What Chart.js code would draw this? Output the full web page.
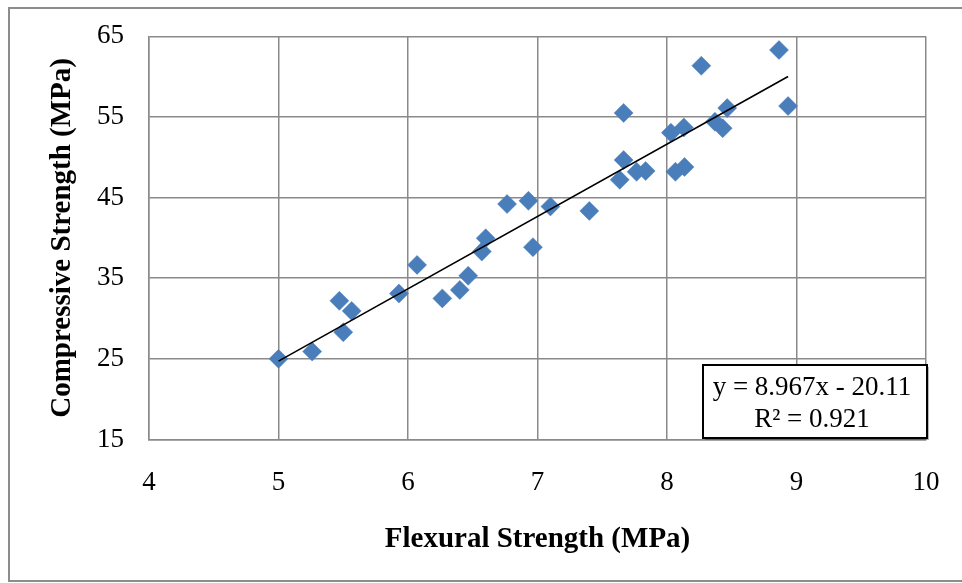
<!DOCTYPE html>
<html>
<head>
<meta charset="utf-8">
<script src="https://cdn.jsdelivr.net/npm/chart.js@4"></script>
<style>
  html, body { margin: 0; padding: 0; background: #ffffff; }
  #wrap { width: 962px; height: 583px; position: relative; }
</style>
</head>
<body>
<div id="wrap"><canvas id="chart" width="962" height="583"></canvas></div>
<script>
// Flexural strength (MPa) of each specimen
const flexural = [5.00, 5.26, 5.47, 5.50, 5.565, 5.93, 6.07, 6.265, 6.40, 6.465,
                  6.57, 6.60, 6.765, 6.93, 6.965, 7.10, 7.40, 7.635, 7.665, 7.665,
                  7.765, 7.835, 8.03, 8.065, 8.135, 8.13, 8.265, 8.37, 8.43, 8.465,
                  8.865, 8.935];
// Compressive strength (MPa) of the same specimens
const compressive = [25.0, 25.9, 32.2, 28.3, 30.95, 33.1, 36.65, 32.5, 33.55, 35.3,
                     38.3, 39.95, 44.2, 44.6, 38.85, 43.9, 43.35, 47.2, 49.65, 55.5,
                     48.2, 48.3, 53.05, 48.2, 48.8, 53.7, 61.35, 54.4, 53.6, 56.1,
                     63.3, 56.35];

// Linear trendline reported for the data
const slope = 8.967;
const intercept = -20.11;
const rSquared = 0.921;

// Axis ranges and tick steps
const xTicks = { min: 4, max: 10, step: 1 };
const yTicks = { min: 15, max: 65, step: 10 };

const points = flexural.map((x, i) => ({ x: x, y: compressive[i] }));
const xLo = Math.min(...flexural);
const xHi = Math.max(...flexural);
const trend = [xLo, xHi].map(x => ({ x: x, y: slope * x + intercept }));

const serif = '"Liberation Serif", "Times New Roman", serif';
const gridColor = '#8a8a8a';

// Outer frame of the chart
const framePlugin = {
  id: 'frame',
  beforeDraw(chart) {
    const ctx = chart.ctx;
    ctx.save();
    ctx.fillStyle = '#ffffff';
    ctx.fillRect(0, 0, chart.width, chart.height);
    ctx.strokeStyle = '#8c8c8c';
    ctx.lineWidth = 2;
    ctx.strokeRect(9, 8, chart.width + 10, 573);
    ctx.restore();
  }
};

// Trendline equation box in the lower-right corner of the plot
const equationPlugin = {
  id: 'equation',
  afterDraw(chart) {
    const { ctx, chartArea } = chart;
    const w = 224, h = 73;
    const right = chartArea.right + 1;
    const bottom = chartArea.bottom - 1.5;
    const left = right - w, top = bottom - h;
    ctx.save();
    // soft shadow
    ctx.fillStyle = 'rgba(0,0,0,0.28)';
    ctx.fillRect(left + 2, top + 2, w, h);
    ctx.fillStyle = '#ffffff';
    ctx.fillRect(left, top, w, h);
    ctx.strokeStyle = '#000000';
    ctx.lineWidth = 2;
    ctx.strokeRect(left, top, w, h);
    ctx.fillStyle = '#000000';
    ctx.font = '27px ' + serif;
    ctx.textAlign = 'center';
    ctx.textBaseline = 'alphabetic';
    const sign = intercept < 0 ? ' - ' : ' + ';
    const line1 = 'y = ' + slope.toFixed(3) + 'x' + sign + Math.abs(intercept).toFixed(2);
    const line2 = 'R\u00B2 = ' + rSquared.toFixed(3);
    const cx = left + w / 2 - 3;
    ctx.fillText(line1, cx, top + 30);
    ctx.fillText(line2, cx, top + 62);
    ctx.restore();
  }
};

// Keep the plot area fixed by dropping the label overhang padding
function clearOverhang(scale) {
  scale.paddingTop = 0;
  scale.paddingBottom = 0;
  scale.paddingLeft = 0;
  scale.paddingRight = 0;
}

new Chart(document.getElementById('chart'), {
  type: 'scatter',
  data: {
    datasets: [
      {
        type: 'line',
        label: 'Linear trend',
        data: trend,
        borderColor: '#000000',
        borderWidth: 1.6,
        pointRadius: 0,
        fill: false,
        tension: 0,
        order: 0
      },
      {
        label: 'Specimens',
        data: points,
        pointStyle: 'rectRot',
        pointRadius: 9.5,
        pointHoverRadius: 9.5,
        backgroundColor: '#4A7EBB',
        borderColor: '#4A7EBB',
        borderWidth: 0.5,
        order: 1
      }
    ]
  },
  options: {
    responsive: false,
    animation: false,
    devicePixelRatio: 1,
    layout: { padding: { top: 36.3, right: 36, left: 0, bottom: 0 } },
    plugins: {
      legend: { display: false },
      tooltip: { enabled: false }
    },
    scales: {
      x: {
        type: 'linear',
        min: xTicks.min,
        max: xTicks.max,
        ticks: {
          stepSize: xTicks.step,
          color: '#000000',
          font: { family: serif, size: 27 },
          padding: 27,
          maxRotation: 0
        },
        grid: { color: gridColor, lineWidth: 1.5, drawTicks: false },
        border: { color: gridColor, width: 1.5 },
        title: {
          display: true,
          text: 'Flexural Strength (MPa)',
          color: '#000000',
          font: { family: serif, size: 29, weight: 'bold' },
          padding: { top: 0, bottom: 26 }
        },
        afterFit(scale) { scale.height = 143.5; clearOverhang(scale); }
      },
      y: {
        type: 'linear',
        min: yTicks.min,
        max: yTicks.max,
        ticks: {
          stepSize: yTicks.step,
          color: '#000000',
          font: { family: serif, size: 27 },
          padding: 25
        },
        grid: { color: gridColor, lineWidth: 1.5, drawTicks: false },
        border: { color: gridColor, width: 1.5 },
        title: {
          display: true,
          text: 'Compressive Strength (MPa)',
          color: '#000000',
          font: { family: serif, size: 29, weight: 'bold' },
          padding: { top: 45, bottom: 0 }
        },
        afterFit(scale) { scale.width = 149; clearOverhang(scale); }
      }
    }
  },
  plugins: [framePlugin, equationPlugin]
});
</script>
</body>
</html>
